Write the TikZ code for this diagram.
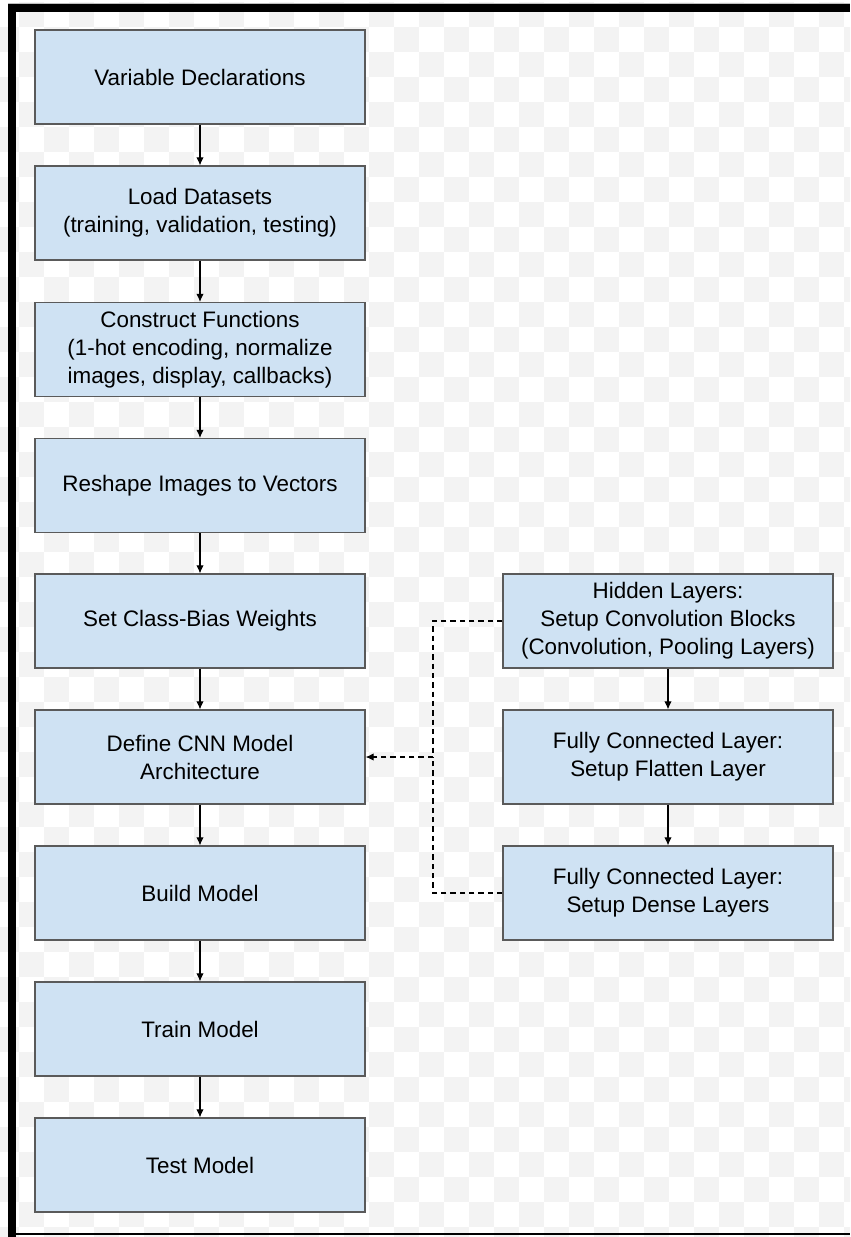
\documentclass[tikz,border=0pt]{standalone}
\usepackage{fontspec}
\setmainfont{Liberation Sans}
\usetikzlibrary{arrows.meta}
\definecolor{boxfill}{HTML}{CFE2F3}
\definecolor{boxline}{HTML}{5A5A5A}
\definecolor{checker}{HTML}{F3F3F3}
\begin{document}
\begin{tikzpicture}[x=0.75pt,y=-0.75pt,
  stepbox/.style={draw=boxline, fill=boxfill, line width=0.9pt,
    minimum width=247.5pt, minimum height=70.5pt, inner sep=0pt,
    align=center, font=\fontsize{16.8}{21}\selectfont},
  flow/.style={-{Latex[length=6pt,width=5.5pt]}, line width=0.8pt},
  link/.style={dash pattern=on 4pt off 3pt, line width=0.8pt}]
\useasboundingbox (0,0) rectangle (850,1237);
\fill[white] (0,0) rectangle (850,1237);
% faint checkered backdrop
\begin{scope}
\clip (0,0) rectangle (850,1237);
\foreach \i in {0,...,34}{
  \foreach \j in {0,...,49}{
    \ifodd\numexpr\i+\j\relax
      \fill[checker] ({\i*25-6},{\j*25+2}) rectangle +(25,25);
    \fi}}
\end{scope}
% frame
\fill[black!25] (8,3) rectangle (850,4);
\fill[black] (8,4) rectangle (850,12);
\fill[black] (8,4) rectangle (16,1237);
\fill[black] (16,1233) rectangle (850,1235);

% main pipeline
\node[stepbox] (vars)  at (200,77)    {Variable Declarations};
\node[stepbox] (load)  at (200,213)   {Load Datasets\\(training, validation, testing)};
\node[stepbox] (funcs) at (200,349.5) {Construct Functions\\(1-hot encoding, normalize\\images, display, callbacks)};
\node[stepbox] (shape) at (200,485.5) {Reshape Images to Vectors};
\node[stepbox] (bias)  at (200,621)   {Set Class-Bias Weights};
\node[stepbox] (cnn)   at (200,757)   {Define CNN Model\\Architecture};
\node[stepbox] (build) at (200,893)   {Build Model};
\node[stepbox] (train) at (200,1029)  {Train Model};
\node[stepbox] (test)  at (200,1165)  {Test Model};

% layer stack
\node[stepbox] (hid)   at (668,621) {Hidden Layers:\\Setup Convolution Blocks\\(Convolution, Pooling Layers)};
\node[stepbox] (flat)  at (668,757) {Fully Connected Layer:\\Setup Flatten Layer};
\node[stepbox] (dense) at (668,893) {Fully Connected Layer:\\Setup Dense Layers};

\foreach \a/\b in {vars/load, load/funcs, funcs/shape, shape/bias, bias/cnn,
                   cnn/build, build/train, train/test, hid/flat, flat/dense}
  \draw[flow] (\a) -- (\b);

% layers feed the model definition
\coordinate (bus) at (433,757);
\draw[link] (hid.west) -| (bus);
\draw[link] (dense.west) -| (bus);
\draw[link,-{Latex[length=6pt,width=5.5pt]}] (bus) -- (cnn.east);
\end{tikzpicture}
\end{document}
